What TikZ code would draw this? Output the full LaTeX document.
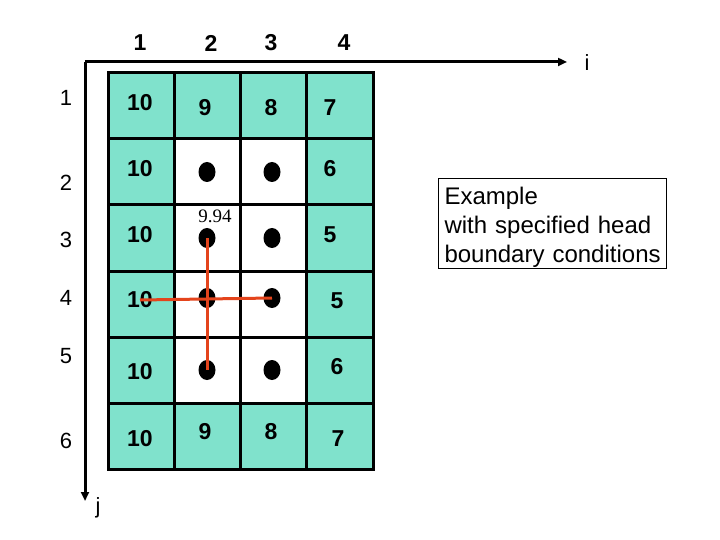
\documentclass[tikz,border=0pt]{standalone}
\usepackage{fontspec}
\setmainfont{Liberation Sans}
\newfontfamily\seriffont{Liberation Serif}
\usetikzlibrary{arrows.meta,shapes.geometric}
\definecolor{cellgreen}{RGB}{128,226,204}
\definecolor{redline}{RGB}{228,68,28}
\tikzset{
  cell/.style={draw=black,line width=3pt,minimum width=66.25pt,minimum height=66pt,inner sep=0pt,outer sep=0pt,anchor=north west},
  bnd/.style={cell,fill=cellgreen},
  inn/.style={cell,fill=white},
  num/.style={font=\fontsize{23}{26}\selectfont\bfseries,inner sep=0pt},
  lbl/.style={font=\fontsize{22}{25}\selectfont,inner sep=0pt},
  dot/.style={ellipse,fill=black,minimum width=17pt,minimum height=20pt,inner sep=0pt},
  axis/.style={line width=3pt,-{Triangle[length=9pt,width=8pt]}},
  red/.style={draw=redline,line width=3pt},
}
\begin{document}
\begin{tikzpicture}[x=1pt,y=-1pt]
\useasboundingbox (0,0) rectangle (720,540);
% cells
\foreach \r/\y in {1/73,2/139,3/205,4/271,5/337,6/403}{
  \foreach \c/\x in {1/108,2/174.25,3/240.5,4/306.75}{
    \node[bnd] (c\r\c) at (\x,\y) {};
  }
}
\foreach \r/\y in {2/139,3/205,4/271,5/337}{
  \foreach \c/\x in {2/174.25,3/240.5}{
    \node[inn] (w\r\c) at (\x,\y) {};
  }
}
% axes
\coordinate (o) at (85,62);
\coordinate (ie) at (567,62);
\coordinate (je) at (85,501);
\draw[axis] (o) -- (ie);
\draw[axis] (o) -- (je);
\node[lbl] (ilab) at (587,63) {i};
\node[lbl] (jlab) at (98,508) {j};
% column labels
\node[num] (col1) at (140,43) {1};
\node[num] (col2) at (211,43) {2};
\node[num] (col3) at (271,43) {3};
\node[num] (col4) at (344,43) {4};
% row labels
\node[lbl] (row1) at (66,98) {1};
\node[lbl] (row2) at (66,183) {2};
\node[lbl] (row3) at (66,240) {3};
\node[lbl] (row4) at (66,298) {4};
\node[lbl] (row5) at (66,356) {5};
\node[lbl] (row6) at (66,441) {6};
% boundary values
\node[num] (t11) at (140,103) {10};
\node[num] (t12) at (205,108) {9};
\node[num] (t13) at (271,108) {8};
\node[num] (t14) at (330,108) {7};
\node[num] (t21) at (140,169) {10};
\node[num] (t24) at (330,169) {6};
\node[num] (t31) at (140,235) {10};
\node[num] (t34) at (330,235) {5};
\node[num] (t41) at (140,300) {10};
\node[num] (t44) at (337,301) {5};
\node[num] (t51) at (140,372) {10};
\node[num] (t54) at (337,367) {6};
\node[num] (t61) at (140,439) {10};
\node[num] (t62) at (205,432) {9};
\node[num] (t63) at (271,432) {8};
\node[num] (t64) at (338,439) {7};
% interior dots
\node[dot] (d22) at (207,172) {};
\node[dot] (d23) at (272,172) {};
\node[dot] (d32) at (207,238) {};
\node[dot] (d33) at (272,238) {};
\node[dot] (d42) at (207,298) {};
\node[dot] (d43) at (272,298) {};
\node[dot] (d52) at (207,370) {};
\node[dot] (d53) at (272,370) {};
\node[font=\seriffont\fontsize{19}{21}\selectfont,inner sep=0pt] (v) at (215,216) {9.94};
% red stencil
\draw[red] (d32.center) -- (d52.center);
\draw[red] (t41.center) -- (d43.center);
% text box
\node[draw=black,line width=1pt,anchor=north west,minimum width=228pt,minimum height=90pt,inner sep=0pt] (box) at (438,178) {};
\node[text width=224pt,inner sep=0pt,align=left,font=\fontsize{24}{29}\selectfont] (boxtext) at ([xshift=4pt,yshift=-4pt]box.center) {Example\\with specified head\\boundary conditions};
\end{tikzpicture}
\end{document}
